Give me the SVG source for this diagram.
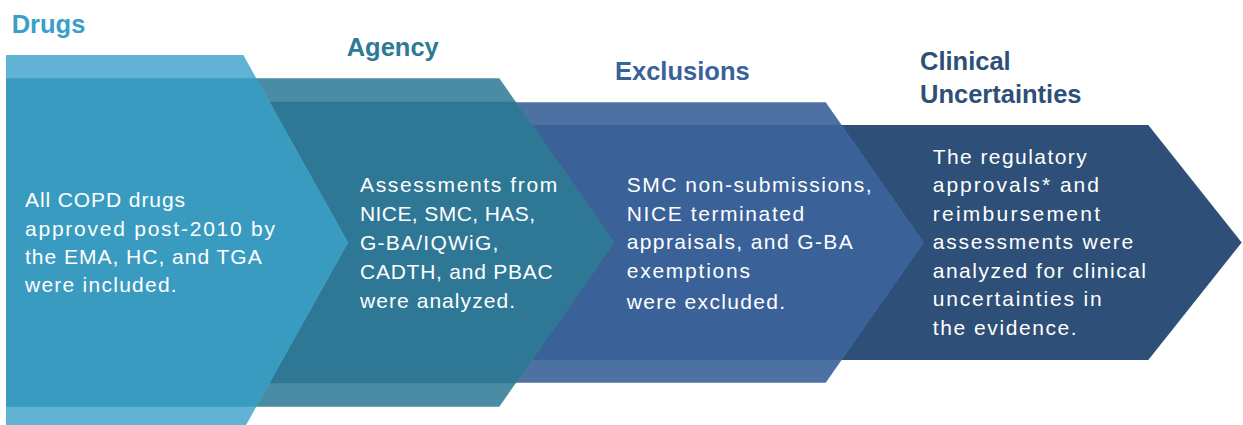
<svg xmlns="http://www.w3.org/2000/svg" width="1243" height="425" viewBox="0 0 1243 425">
  <style>
    .hd { font-family: "Liberation Sans", Arial, sans-serif; font-weight: 700; font-size: 25.5px; }
    .bd { font-family: "Liberation Sans", Arial, sans-serif; font-size: 21px; fill: #ffffff; }
    .c1a { fill: #60b3d4; } .c1b { fill: #3a9bc1; }
    .c2a { fill: #4a8ca3; } .c2b { fill: #2e7896; }
    .c3a { fill: #4e71a4; } .c3b { fill: #3a6299; }
    .c4b { fill: #2e4f78; }
  </style>
  <rect width="1243" height="425" fill="#ffffff"/>

  <!-- Step 4: clinical uncertainties (drawn first, sits at the back) -->
  <g id="step-uncertainties">
    <polygon class="c4b" points="800,125 1148.3,125 1241.7,242.5 1148.3,360 800,360"/>
    <g class="hd" fill="#2e4f78">
      <text x="920" y="70">Clinical</text>
      <text x="920" y="102.7">Uncertainties</text>
    </g>
    <g class="bd">
      <text x="932.7" y="163.5" textLength="154" lengthAdjust="spacing">The regulatory</text>
      <text x="932.7" y="192" textLength="166.3" lengthAdjust="spacing">approvals* and</text>
      <text x="932.7" y="220.5" textLength="167.3" lengthAdjust="spacing">reimbursement</text>
      <text x="932.7" y="249" textLength="200.6" lengthAdjust="spacing">assessments were</text>
      <text x="932.7" y="277.5" textLength="213.3" lengthAdjust="spacing">analyzed for clinical</text>
      <text x="932.7" y="306" textLength="169" lengthAdjust="spacing">uncertainties in</text>
      <text x="932.7" y="334.5" textLength="144" lengthAdjust="spacing">the evidence.</text>
    </g>
  </g>

  <!-- Step 3: exclusions -->
  <g id="step-exclusions">
    <polygon class="c3a" points="500,102.3 825.7,102.3 923.8,242.5 825.7,382.7 500,382.7"/>
    <polygon class="c3b" points="500,125 841.6,125 923.8,242.5 841.6,360 500,360"/>
    <text class="hd" x="615" y="79.5" fill="#3a6199">Exclusions</text>
    <g class="bd">
      <text x="626.7" y="192" textLength="245" lengthAdjust="spacing">SMC non-submissions,</text>
      <text x="626.7" y="220.5" textLength="177.6" lengthAdjust="spacing">NICE terminated</text>
      <text x="626.7" y="249" textLength="226" lengthAdjust="spacing">appraisals, and G-BA</text>
      <text x="626.7" y="278" textLength="123.3" lengthAdjust="spacing">exemptions</text>
      <text x="626.7" y="309" textLength="158.3" lengthAdjust="spacing">were excluded.</text>
    </g>
  </g>

  <!-- Step 2: agency -->
  <g id="step-agency">
    <polygon class="c2a" points="230,78.3 499.3,78.3 614.2,242.5 499.3,406.7 230,406.7"/>
    <polygon class="c2b" points="230,101.7 515.7,101.7 614.2,242.5 515.7,383.3 230,383.3"/>
    <text class="hd" x="346.7" y="55.5" fill="#2e7a96">Agency</text>
    <g class="bd">
      <text x="360" y="192.3" textLength="197.3" lengthAdjust="spacing">Assessments from</text>
      <text x="360" y="221.3" textLength="175" lengthAdjust="spacing">NICE, SMC, HAS,</text>
      <text x="360" y="250.3" textLength="138.3" lengthAdjust="spacing">G-BA/IQWiG,</text>
      <text x="360" y="279.3" textLength="192.7" lengthAdjust="spacing">CADTH, and PBAC</text>
      <text x="360" y="308.3" textLength="155" lengthAdjust="spacing">were analyzed.</text>
    </g>
  </g>

  <!-- Step 1: drugs (front-most chevron) -->
  <g id="step-drugs">
    <polygon class="c1a" points="6,55 243.3,55 348,242.5 243.3,430 6,430"/>
    <polygon class="c1b" points="6,78.3 256.3,78.3 348,242.5 256.3,406.7 6,406.7"/>
    <text class="hd" x="11.7" y="33.3" fill="#3a9fc7">Drugs</text>
    <g class="bd">
      <text x="25" y="207.3" textLength="160" lengthAdjust="spacing">All COPD drugs</text>
      <text x="25" y="235.6" textLength="250" lengthAdjust="spacing">approved post-2010 by</text>
      <text x="25" y="263.9" textLength="236.7" lengthAdjust="spacing">the EMA, HC, and TGA</text>
      <text x="25" y="292.2" textLength="151.7" lengthAdjust="spacing">were included.</text>
    </g>
  </g>
</svg>
